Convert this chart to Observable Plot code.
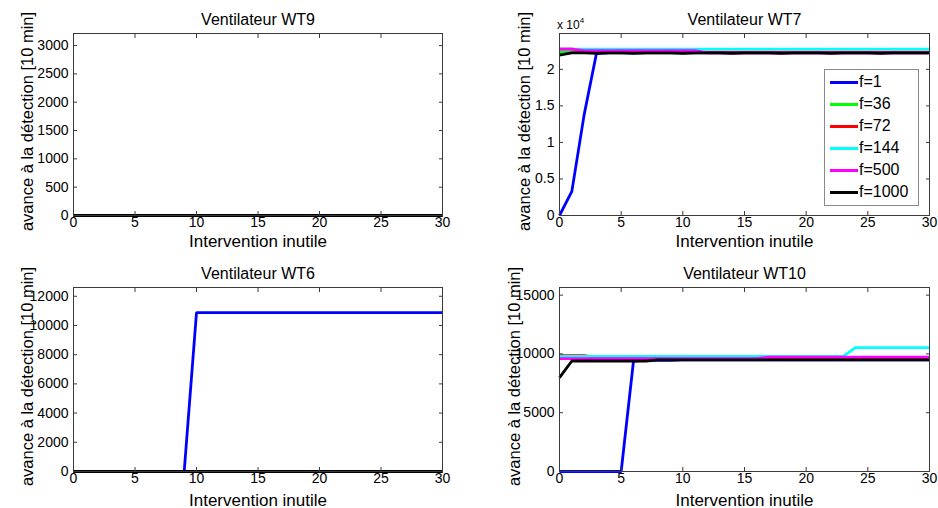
<!DOCTYPE html>
<html>
<head>
<meta charset="utf-8">
<script src="https://cdn.jsdelivr.net/npm/d3@7"></script>
<script src="https://cdn.jsdelivr.net/npm/@observablehq/plot@0.6"></script>
<style>
  html, body { margin: 0; padding: 0; background: #fff; }
  #root { position: relative; width: 938px; height: 508px; background: #fff; font-family: "Liberation Sans", Arial, sans-serif; overflow: hidden; }
  .legend { position: absolute; border: 1px solid #8a8a8a; background: #fff; box-sizing: border-box; }
  .legend .row { position: absolute; left: 0; height: 22px; display: flex; align-items: center; font-size: 16px; color: #000; }
  .legend .sw { display: inline-block; width: 28px; height: 3px; margin-left: 5px; margin-right: 1px; }
  .mult { position: absolute; font-size: 12px; color: #000; }
  .mult sup { font-size: 8px; position: relative; top: -1px; }
</style>
</head>
<body>
<div id="root"></div>
<script>
// ---------- data ----------
const interventions = [0,1,2,3,4,5,6,7,8,9,10,11,12,13,14,15,16,17,18,19,20,21,22,23,24,25,26,27,28,29,30];
const seriesNames = ["f=1", "f=36", "f=72", "f=144", "f=500", "f=1000"];
const seriesColors = ["#0000ff", "#00ff00", "#ff0000", "#00ffff", "#ff00ff", "#000000"];
const xTicks = [0, 5, 10, 15, 20, 25, 30];
const titles = ["Ventilateur WT9", "Ventilateur WT7", "Ventilateur WT6", "Ventilateur WT10"];
const xLabel = "Intervention inutile";
const yLabel = "avance à la détection [10 min]";

const zeros = [0,0,0,0,0,0,0,0,0,0,0,0,0,0,0,0,0,0,0,0,0,0,0,0,0,0,0,0,0,0,0];

// WT9 : every series stays at 0
const wt9 = [zeros, zeros, zeros, zeros, zeros, zeros];
const wt9YTicks = [0, 500, 1000, 1500, 2000, 2500, 3000];
const wt9YMax = 3213;

// WT7 (values in 10 min units; axis labelled x 10^4)
const wt7_f1    = [0,3300,13800,22200,22250,22250,22250,22250,22250,22250,22250,22250,22250,22250,22250,22250,22250,22250,22250,22250,22250,22250,22250,22250,22250,22250,22250,22250,22250,22250,22250];
const wt7_f36   = [22300,22300,22300,22300,22300,22300,22300,22300,22300,22300,22300,22300,22300,22300,22300,22300,22300,22300,22300,22300,22300,22300,22300,22300,22300,22300,22300,22300,22300,22300,22300];
const wt7_f72   = [22750,22750,22350,22350,22350,22350,22350,22350,22350,22350,22350,22350,22350,22350,22350,22350,22350,22350,22350,22350,22350,22350,22350,22350,22350,22350,22350,22350,22350,22350,22350];
const wt7_f144  = [22750,22750,22750,22750,22750,22750,22750,22750,22750,22750,22750,22750,22750,22750,22750,22750,22750,22750,22750,22750,22750,22750,22750,22750,22750,22750,22750,22750,22750,22750,22750];
const wt7_f500  = [22750,22750,22550,22550,22550,22550,22550,22550,22550,22550,22550,22550,22250,22250,22250,22250,22250,22250,22250,22250,22250,22250,22250,22250,22250,22250,22250,22250,22250,22250,22250];
const wt7_f1000 = [21950,22250,22250,22200,22250,22250,22200,22250,22250,22250,22200,22250,22250,22250,22200,22250,22250,22250,22200,22250,22250,22250,22200,22250,22250,22250,22200,22250,22250,22250,22250];
const wt7 = [wt7_f1, wt7_f36, wt7_f72, wt7_f144, wt7_f500, wt7_f1000];
const wt7YTicks = [0, 5000, 10000, 15000, 20000];
const wt7YTickLabels = ["0", "0.5", "1", "1.5", "2"];
const wt7YMax = 24900;

// WT6
const wt6_f1 = [0,0,0,0,0,0,0,0,0,0,10880,10880,10880,10880,10880,10880,10880,10880,10880,10880,10880,10880,10880,10880,10880,10880,10880,10880,10880,10880,10880];
const wt6 = [wt6_f1, zeros, zeros, zeros, zeros, zeros];
const wt6YTicks = [0, 2000, 4000, 6000, 8000, 10000, 12000];
const wt6YMax = 12600;

// WT10
const wt10_f1    = [0,0,0,0,0,0,9400,9450,9450,9450,9500,9500,9500,9500,9500,9500,9500,9500,9500,9500,9500,9500,9500,9500,9500,9500,9500,9500,9500,9500,9500];
const wt10_f36   = [9600,9600,9600,9600,9600,9600,9600,9600,9600,9600,9600,9600,9600,9600,9600,9600,9600,9600,9600,9600,9600,9600,9600,9600,9600,9600,9600,9600,9600,9600,9600];
const wt10_f72   = [9850,9850,9850,9700,9700,9700,9700,9700,9700,9700,9700,9700,9700,9700,9700,9700,9700,9700,9700,9700,9700,9700,9700,9700,9700,9700,9700,9700,9700,9700,9700];
const wt10_f144  = [9790,9790,9790,9790,9790,9790,9790,9790,9790,9790,9790,9790,9790,9790,9790,9790,9790,9790,9790,9790,9790,9790,9790,9790,10530,10530,10530,10530,10530,10530,10530];
const wt10_f500  = [9600,9600,9600,9600,9600,9600,9600,9600,9600,9600,9600,9600,9600,9600,9600,9600,9600,9730,9730,9730,9730,9730,9730,9730,9730,9730,9730,9730,9730,9730,9730];
const wt10_f1000 = [7980,9400,9400,9400,9400,9400,9400,9400,9500,9500,9500,9500,9500,9500,9500,9500,9500,9500,9500,9500,9500,9500,9500,9500,9500,9500,9500,9500,9500,9500,9500];
const wt10 = [wt10_f1, wt10_f36, wt10_f72, wt10_f144, wt10_f500, wt10_f1000];
const wt10YTicks = [0, 5000, 10000, 15000];
const wt10YMax = 15650;

// ---------- drawing ----------
const root = document.getElementById("root");
const FONT = "'Liberation Sans', Arial, sans-serif";

function toRows(seriesArrays) {
  const rows = [];
  seriesArrays.forEach((vals, s) => {
    vals.forEach((v, i) => rows.push({x: interventions[i], y: v, series: seriesNames[s], si: s}));
  });
  return rows;
}

function panel({title, data, yMax, yTicks, yTickFormat, left, top, marginLeft, marginRight, marginTop, marginBottom, yLabelOffset, xLabelOffset}) {
  const rows = toRows(data);
  const lines = seriesNames.map((name, s) =>
    Plot.line(rows.filter(d => d.si === s), {x: "x", y: "y", stroke: seriesColors[s], strokeWidth: 2.8, strokeLinejoin: "miter", strokeLinecap: "butt"})
  );
  const svg = Plot.plot({
    width: 469,
    height: 254,
    marginLeft, marginRight, marginTop, marginBottom,
    style: {fontFamily: FONT, fontSize: "14px", color: "#000", background: "transparent", overflow: "visible"},
    x: {domain: [0, 30], nice: false},
    y: {domain: [0, yMax], nice: false},
    marks: [
      ...lines,
      Plot.frame({stroke: "#3a3a3a", strokeWidth: 1}),
      Plot.axisX({anchor: "bottom", ticks: xTicks, tickSize: -4, tickPadding: 6, label: null, stroke: "#3a3a3a", fill: "#000"}),
      Plot.axisX({anchor: "top", ticks: xTicks, tickSize: -4, tickFormat: () => "", label: null, stroke: "#3a3a3a"}),
      Plot.axisY({anchor: "left", ticks: yTicks, tickSize: -4, tickPadding: 9, tickFormat: yTickFormat, label: null, stroke: "#3a3a3a", fill: "#000"}),
      Plot.axisY({anchor: "right", ticks: yTicks, tickSize: -4, tickFormat: () => "", label: null, stroke: "#3a3a3a"}),
      Plot.text([title], {frameAnchor: "top", dy: -9, lineAnchor: "bottom", textAnchor: "middle", fontSize: 16, fill: "#000"}),
      Plot.text([xLabel], {frameAnchor: "bottom", dy: xLabelOffset, lineAnchor: "bottom", textAnchor: "middle", fontSize: 17, fill: "#000"}),
      Plot.text([yLabel], {frameAnchor: "left", dx: -yLabelOffset, dy: -3, rotate: -90, lineAnchor: "top", textAnchor: "middle", fontSize: 16.5, fill: "#000"})
    ]
  });
  svg.style.position = "absolute";
  svg.style.left = left + "px";
  svg.style.top = top + "px";
  root.appendChild(svg);
}

const fmtPlain = d => String(d);
const fmtWT7 = d => wt7YTickLabels[wt7YTicks.indexOf(d)];

panel({title: titles[0], data: wt9, yMax: wt9YMax, yTicks: wt9YTicks, yTickFormat: fmtPlain,
  left: 0, top: 0, marginLeft: 73, marginRight: 27, marginTop: 33, marginBottom: 39, yLabelOffset: 52, xLabelOffset: 31});
panel({title: titles[1], data: wt7, yMax: wt7YMax, yTicks: wt7YTicks, yTickFormat: fmtWT7,
  left: 469, top: 0, marginLeft: 90, marginRight: 9, marginTop: 33, marginBottom: 39, yLabelOffset: 41, xLabelOffset: 31});
panel({title: titles[2], data: wt6, yMax: wt6YMax, yTicks: wt6YTicks, yTickFormat: fmtPlain,
  left: 0, top: 254, marginLeft: 73, marginRight: 27, marginTop: 33, marginBottom: 37, yLabelOffset: 52, xLabelOffset: 34});
panel({title: titles[3], data: wt10, yMax: wt10YMax, yTicks: wt10YTicks, yTickFormat: fmtPlain,
  left: 469, top: 254, marginLeft: 90, marginRight: 9, marginTop: 33, marginBottom: 37, yLabelOffset: 51, xLabelOffset: 34});

// multiplier label of WT7
const mult = document.createElement("div");
mult.className = "mult";
mult.style.left = "557px";
mult.style.top = "17px";
mult.innerHTML = "x 10<sup>4</sup>";
root.appendChild(mult);

// legend of WT7
const legend = document.createElement("div");
legend.className = "legend";
legend.style.left = "824px";
legend.style.top = "69px";
legend.style.width = "95px";
legend.style.height = "137px";
seriesNames.forEach((name, s) => {
  const row = document.createElement("div");
  row.className = "row";
  row.style.top = (1 + s * 22) + "px";
  const sw = document.createElement("span");
  sw.className = "sw";
  sw.style.background = seriesColors[s];
  const tx = document.createElement("span");
  tx.textContent = name;
  row.appendChild(sw);
  row.appendChild(tx);
  legend.appendChild(row);
});
root.appendChild(legend);
</script>
</body>
</html>
